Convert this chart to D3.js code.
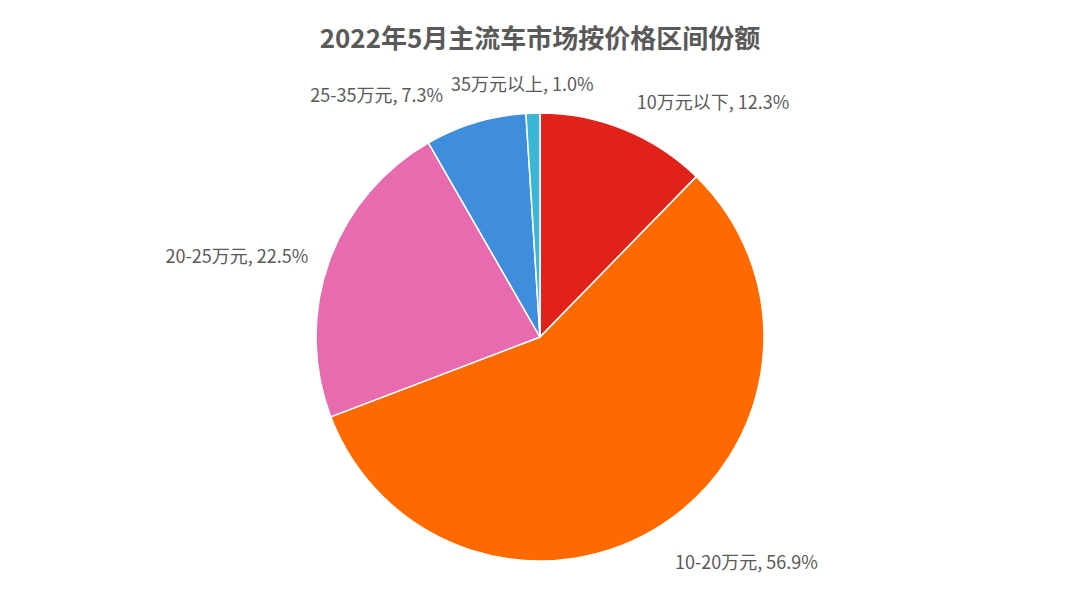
<!DOCTYPE html>
<html><head><meta charset="utf-8">
<script src="https://cdn.jsdelivr.net/npm/d3@7/dist/d3.min.js"></script>
<style>body{margin:0;background:#fff}</style></head>
<body><svg id="c" width="1080" height="608"></svg>
<script>
const categories = ["10万元以下","10-20万元","20-25万元","25-35万元","35万元以上"];
const values = [12.3, 56.9, 22.5, 7.3, 1.0];
const colors = ["#E0221A","#FF6A00","#E86BB0","#3F8EDD","#3BB7D6"];
const anchors = ["start","start","end","end","middle"];
const svg = d3.select("#c");
const font = "'Noto Sans CJK SC','Noto Sans',sans-serif";
svg.append("text").attr("x",540).attr("y",48).attr("text-anchor","middle")
  .attr("font-family",font).attr("font-size",26).attr("font-weight","bold").attr("fill","#595959")
  .text("2022年5月主流车市场按价格区间份额");
const cx=540, cy=337, r=224;
const data = categories.map((c,i)=>({c, v:values[i], i}));
const arcs = d3.pie().value(d=>d.v).sort(null)(data);
const g = svg.append("g").attr("transform",`translate(${cx},${cy})`);
g.selectAll("path").data(arcs).join("path")
  .attr("d", d3.arc().innerRadius(0).outerRadius(r))
  .attr("fill", d=>colors[d.data.i]).attr("stroke","#fff").attr("stroke-width",1.5);
const lr = 246;
const offs = [[4,-6],[0,20],[0,2],[-26,-6],[-10,-6]];
g.selectAll("text.l").data(arcs).join("text")
  .attr("x", d=>{const a=(d.startAngle+d.endAngle)/2; return lr*Math.sin(a)+offs[d.data.i][0];})
  .attr("y", d=>{const a=(d.startAngle+d.endAngle)/2; return -lr*Math.cos(a)+offs[d.data.i][1];})
  .attr("dy","0.35em").attr("text-anchor", d=>anchors[d.data.i])
  .attr("font-family",font).attr("font-size",18).attr("fill","#595959")
  .text(d=>`${d.data.c}, ${d.data.v.toFixed(1)}%`);
</script></body></html>
